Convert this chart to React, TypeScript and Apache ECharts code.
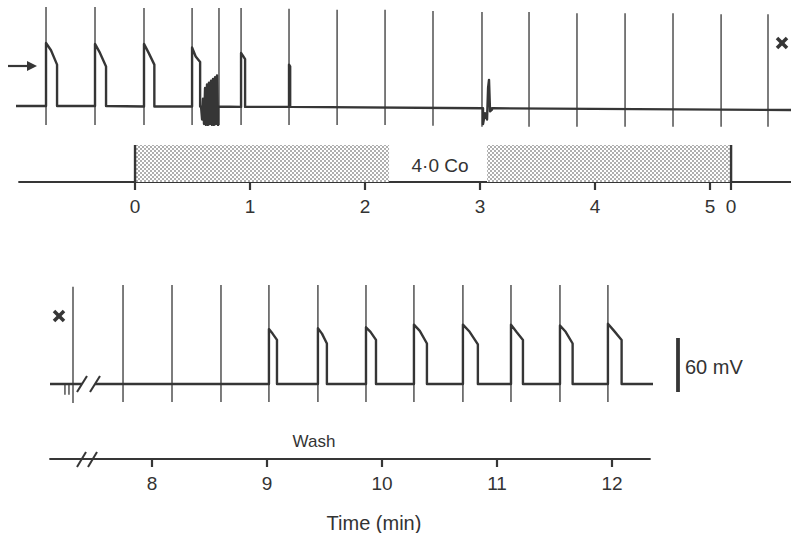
import React, { useEffect, useRef } from 'react';
import * as echarts from 'echarts';

// ---------- Upper record: time in min from start of 4.0 mM Co ----------
const topStimTimes = [-0.774, -0.348, 0.078, 0.496, 0.73, 0.922, 1.339, 1.757, 2.174, 2.591, 3.017, 3.426, 3.843, 4.261, 4.678, 5.096, 5.504];
const topRest = [-80, -80, -80.5, -80.5, -80.5, -81, -81, -81.5, -82, -82, -82.5, -83, -83, -83.5, -84, -84, -84.5];
const topSpikeTop = [30, 30, 29, 29, 29, 29, 28, 27, 27, 25.5, 24.5, 24.5, 23, 23, 23, 22, 22];
const topSpikeBottom = [-101, -101, -101, -101, -101, -101, -101, -101, -101, -102, -103, -103, -103, -103, -103, -103, -103];
const topApStim = [0, 1, 2, 3, 5, 6];
const topApPeak = [-10, -11, -11, -15, -21, -34];
const topApMid = [-18, -21, -21, -25, -24, -35];
const topApEnd = [-34, -36, -34, -31, -28, -36];
const topApDur = [0.096, 0.096, 0.09, 0.07, 0.035, 0.01];
const topBurstTimes = [0.574, 0.583, 0.591, 0.6, 0.609, 0.617, 0.626, 0.635, 0.643, 0.652, 0.661, 0.67, 0.678, 0.687, 0.696, 0.704, 0.713, 0.722];
const topBurstValues = [-80, -95, -72, -100, -60, -101, -56, -101, -54, -100, -52, -101, -50, -101, -48, -100, -46, -101];
const topNoiseTimes = [3.026, 3.043, 3.061, 3.07, 3.078, 3.087, 3.104];
const topNoiseValues = [-100, -88, -95, -60, -51, -86, -84];

const coBars = [[0, 2.209], [3.061, 5.183]];
const coStart = 0;
const coEnd = 5.183;
const topTickValues = [0, 1, 2, 3, 4, 5, 5.183];
const topTickLabels = ['0', '1', '2', '3', '4', '5', '0'];

// ---------- Lower record: wash ----------
const botStimTimes = [7.313, 7.748, 8.174, 8.6, 9.017, 9.443, 9.861, 10.278, 10.704, 11.122, 11.548, 11.965];
const botRest = [-80, -80, -80, -80, -80, -80, -80, -80, -80, -80, -80, -80];
const botSpikeTop = [28, 30, 30, 30, 30, 30, 30, 30, 30, 30, 30, 30];
const botSpikeBottom = [-101, -100, -100, -100, -100, -100, -100, -100, -100, -100, -100, -100];
const botMinorTimes = [7.243, 7.278];
const botMinorDepth = [-92, -92];
const botApStim = [4, 5, 6, 7, 8, 9, 10, 11];
const botApPeak = [-19, -18, -17, -14, -14, -14, -15, -13];
const botApMid = [-24, -24, -22, -21, -22, -22, -22, -21];
const botApEnd = [-31, -35, -31, -35, -36, -31, -35, -31];
const botApDur = [0.07, 0.078, 0.087, 0.113, 0.13, 0.104, 0.11, 0.119];
const botBreak = [7.391, 7.504];
const botTickValues = [8, 9, 10, 11, 12];
const botTickLabels = ['8', '9', '10', '11', '12'];

const INK = '#363636';
const FONT = '"Liberation Sans", Arial, Helvetica, sans-serif';

function restAt(times: number[], rest: number[], t: number) {
  let r = rest[0];
  for (let i = 0; i < times.length; i++) if (times[i] <= t + 1e-9) r = rest[i];
  return r;
}

function apEvents(times: number[], idx: number[], peak: number[], mid: number[], end: number[], dur: number[]) {
  return idx.map((si, k) => {
    const t = times[si];
    const d = dur[k];
    return [[t, peak[k]], [t + d * 0.45, mid[k]], [t + d, end[k]]];
  });
}

function zipEvent(ts: number[], vs: number[]) {
  return ts.map((t, i) => [t, vs[i]]);
}

function buildTrace(from: number, to: number, times: number[], rest: number[], events: number[][][]) {
  const evs = events.filter((ev) => ev[0][0] >= from && ev[0][0] <= to).sort((a, b) => a[0][0] - b[0][0]);
  const pts: any[] = [[from, restAt(times, rest, from)]];
  for (const ev of evs) {
    pts.push([ev[0][0], restAt(times, rest, ev[0][0])]);
    for (const p of ev) pts.push(p);
    const last = ev[ev.length - 1][0];
    pts.push([last, restAt(times, rest, last)]);
  }
  pts.push([to, restAt(times, rest, to)]);
  return pts;
}

function buildArtifacts(times: number[], tops: number[], bottoms: number[]) {
  const d: any[] = [];
  times.forEach((t, i) => {
    d.push([t, tops[i]], [t, bottoms[i]], [t, null]);
  });
  return d;
}

const dotSvg =
  "<svg xmlns='http://www.w3.org/2000/svg' width='4' height='4'><rect width='4' height='4' fill='#ffffff'/><circle cx='1' cy='1' r='0.8' fill='#4a4a4a'/><circle cx='3' cy='3' r='0.8' fill='#4a4a4a'/></svg>";
const dotUrl = 'data:image/svg+xml;charset=utf-8,' + encodeURIComponent(dotSvg);

export default function App() {
  const ref = useRef<HTMLDivElement>(null);
  useEffect(() => {
    if (!ref.current) return;
    const chart = echarts.init(ref.current, null, { renderer: 'svg' });

    const topMin = -1.035, topMax = 5.704;
    const topAxMin = -1.009;
    const botMin = 7.113, botMax = 12.357;
    const botAxMax = 12.33;

    const topEvents = [
      ...apEvents(topStimTimes, topApStim, topApPeak, topApMid, topApEnd, topApDur),
      zipEvent(topBurstTimes, topBurstValues),
      zipEvent(topNoiseTimes, topNoiseValues),
    ];
    const topTrace = buildTrace(topMin, topMax, topStimTimes, topRest, topEvents);
    const topArt = buildArtifacts(topStimTimes, topSpikeTop, topSpikeBottom);

    const botEvents = apEvents(botStimTimes, botApStim, botApPeak, botApMid, botApEnd, botApDur);
    const botTraceA = buildTrace(botMin, botBreak[0], botStimTimes, botRest, botEvents);
    const botTraceB = buildTrace(botBreak[1], botMax, botStimTimes, botRest, botEvents);
    const botArt = [
      ...buildArtifacts(botStimTimes, botSpikeTop, botSpikeBottom),
      ...buildArtifacts(botMinorTimes, botMinorTimes.map((t) => restAt(botStimTimes, botRest, t)), botMinorDepth),
    ];

    const dotPattern = { image: dotUrl, repeat: 'repeat', imageWidth: 4, imageHeight: 4 };

    const timeAxis = (gridIndex: number, min: number, max: number, ticks: number[], labels: string[]) => ({
      type: 'value',
      gridIndex,
      min,
      max,
      position: 'bottom',
      axisLine: { show: true, onZero: false, lineStyle: { color: INK, width: 1.8 } },
      axisTick: { show: true, customValues: ticks, length: 8, lineStyle: { color: INK, width: 2.2 } },
      axisLabel: {
        show: true,
        customValues: ticks,
        margin: 15,
        fontSize: 19,
        fontFamily: FONT,
        color: '#333',
        formatter: (v: number) => {
          const i = ticks.findIndex((x) => Math.abs(x - v) < 1e-6);
          return i >= 0 ? labels[i] : '';
        },
      },
      splitLine: { show: false },
    });

    const hiddenX = (gridIndex: number, min: number, max: number) => ({ type: 'value', gridIndex, min, max, show: false });
    const hiddenY = (gridIndex: number, min: number, max: number) => ({ type: 'value', gridIndex, min, max, show: false });

    const traceLine = { color: INK, width: 2.4, join: 'round' };
    const artLine = { color: INK, width: 1.3 };

    const textStyle = (text: string, x: number, y: number, size: number, align = 'center') => ({
      type: 'text',
      style: {
        text,
        x,
        y,
        fill: '#333',
        font: `${size}px ${FONT}`,
        fontSize: size,
        fontFamily: FONT,
        align,
        textAlign: align,
        verticalAlign: 'middle',
        textVerticalAlign: 'middle',
      },
    });
    const seg = (x1: number, y1: number, x2: number, y2: number, w: number) => ({
      type: 'line',
      shape: { x1, y1, x2, y2 },
      style: { stroke: INK, lineWidth: w },
    });

    chart.setOption({
      animation: false,
      backgroundColor: '#ffffff',
      grid: [
        { left: 16, top: 2.5, width: 775, height: 130.5 },
        { left: 19, top: 145, width: 772, height: 37 },
        { left: 50, top: 280.5, width: 603, height: 130.5 },
        { left: 50, top: 440, width: 600, height: 19 },
      ],
      xAxis: [
        hiddenX(0, topMin, topMax),
        timeAxis(1, topAxMin, topMax, topTickValues, topTickLabels),
        hiddenX(2, botMin, botMax),
        timeAxis(3, botMin, botAxMax, botTickValues, botTickLabels),
      ],
      yAxis: [hiddenY(0, -110, 35), hiddenY(1, 0, 1), hiddenY(2, -110, 35), hiddenY(3, 0, 1)],
      series: [
        { type: 'line', xAxisIndex: 0, yAxisIndex: 0, data: topTrace, showSymbol: false, symbol: 'none', lineStyle: traceLine, silent: true },
        { type: 'line', xAxisIndex: 0, yAxisIndex: 0, data: topArt, showSymbol: false, symbol: 'none', lineStyle: artLine, silent: true },
        {
          type: 'custom',
          xAxisIndex: 1,
          yAxisIndex: 1,
          data: coBars,
          silent: true,
          renderItem: (params: any, api: any) => {
            const s = api.value(0);
            const e = api.value(1);
            const a = api.coord([s, 1]);
            const b = api.coord([e, 0]);
            const children: any[] = [
              { type: 'rect', shape: { x: a[0], y: a[1], width: b[0] - a[0], height: b[1] - a[1] }, style: { fill: dotPattern } },
            ];
            if (Math.abs(s - coStart) < 1e-6)
              children.push({ type: 'line', shape: { x1: a[0], y1: a[1], x2: a[0], y2: b[1] }, style: { stroke: INK, lineWidth: 2.4 } });
            if (Math.abs(e - coEnd) < 1e-6)
              children.push({ type: 'line', shape: { x1: b[0], y1: a[1], x2: b[0], y2: b[1] }, style: { stroke: INK, lineWidth: 2.4 } });
            return { type: 'group', children };
          },
        },
        { type: 'line', xAxisIndex: 2, yAxisIndex: 2, data: botTraceA, showSymbol: false, symbol: 'none', lineStyle: traceLine, silent: true },
        { type: 'line', xAxisIndex: 2, yAxisIndex: 2, data: botTraceB, showSymbol: false, symbol: 'none', lineStyle: traceLine, silent: true },
        { type: 'line', xAxisIndex: 2, yAxisIndex: 2, data: botArt, showSymbol: false, symbol: 'none', lineStyle: artLine, silent: true },
        { type: 'line', xAxisIndex: 3, yAxisIndex: 3, data: [], showSymbol: false, silent: true },
      ],
      graphic: [
        // arrow
        seg(8, 66, 30, 66, 2.2),
        { type: 'polygon', shape: { points: [[37, 66], [27, 61], [27, 71]] }, style: { fill: INK } },
        // crosses
        seg(777, 38, 787, 48, 3.5),
        seg(777, 48, 787, 38, 3.5),
        seg(54, 311, 64, 321, 3.5),
        seg(54, 321, 64, 311, 3.5),
        // trace break
        seg(77, 392, 87, 376, 2),
        seg(90, 392, 100, 376, 2),
        // axis break
        seg(77, 467, 86, 452, 2),
        seg(88, 467, 97, 452, 2),
        // scale bar
        seg(678, 338, 678, 392, 3.8),
        textStyle('60 mV', 685, 367, 20, 'left'),
        textStyle('4·0 Co', 440, 165, 19),
        textStyle('Wash', 314, 441, 17),
        textStyle('Time (min)', 374, 523, 20),
      ],
    });
    return () => chart.dispose();
  }, []);
  return <div ref={ref} style={{ position: 'absolute', left: 0, top: 0, width: 791, height: 533, background: '#fff' }} />;
}
